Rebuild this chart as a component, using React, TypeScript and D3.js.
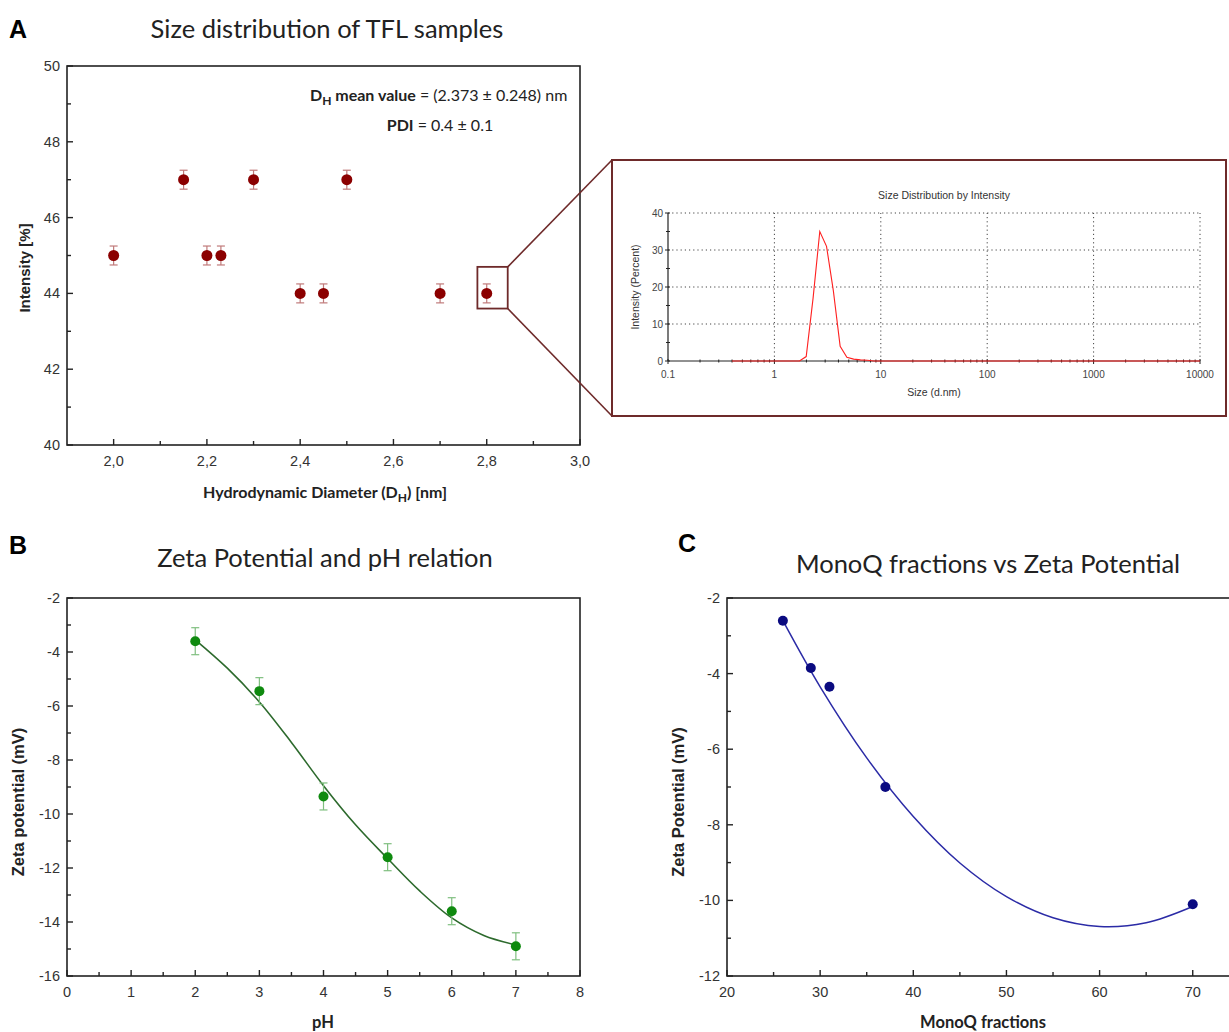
import React from 'react';
import * as d3 from 'd3';

// ---------- Panel A data ----------
const sizeX = [2.0, 2.15, 2.2, 2.23, 2.3, 2.4, 2.45, 2.5, 2.7, 2.8];
const sizeY = [45, 47, 45, 45, 47, 44, 44, 47, 44, 44];
const sizeErr = [0.25, 0.25, 0.25, 0.25, 0.25, 0.25, 0.25, 0.25, 0.25, 0.25];
const sizeXMajor = [2.0, 2.2, 2.4, 2.6, 2.8, 3.0];
const sizeXMinor = [2.1, 2.3, 2.5, 2.7, 2.9];
const sizeYMajor = [40, 42, 44, 46, 48, 50];
const sizeYMinor = [41, 43, 45, 47, 49];

// ---------- Inset (DLS) data ----------
const distSize = [0.4, 1.72, 1.99, 2.31, 2.67, 3.09, 3.58, 4.15, 4.8, 5.56, 6.44, 7.46, 8.64, 10000];
const distIntensity = [0, 0, 1.2, 17, 35, 31, 19, 4, 1, 0.5, 0.3, 0.2, 0, 0];
const distXTicks = [0.1, 1, 10, 100, 1000, 10000];
const distYTicks = [0, 10, 20, 30, 40];

// ---------- Panel B data ----------
const phX = [2, 3, 4, 5, 6, 7];
const zetaY = [-3.6, -5.45, -9.35, -11.6, -13.6, -14.9];
const zetaErr = [0.5, 0.5, 0.5, 0.5, 0.5, 0.5];
const phFitX = [2, 2.5, 3, 3.5, 4, 4.5, 5, 5.5, 6, 6.5, 7];
const phFitY = [-3.55, -4.6, -5.85, -7.35, -8.95, -10.4, -11.65, -12.85, -13.85, -14.5, -14.85];
const phXMajor = [0, 1, 2, 3, 4, 5, 6, 7, 8];
const phXMinor = [0.5, 1.5, 2.5, 3.5, 4.5, 5.5, 6.5, 7.5];
const phYMajor = [-16, -14, -12, -10, -8, -6, -4, -2];
const phYMinor = [-15, -13, -11, -9, -7, -5, -3];

// ---------- Panel C data ----------
const monoX = [26, 29, 31, 37, 70];
const monoY = [-2.6, -3.85, -4.35, -7.0, -10.1];
const monoFitX = [26, 30, 35, 40, 45, 50, 55, 60, 65, 70];
const monoFitY = [-2.6, -4.35, -6.23, -7.78, -9.01, -9.9, -10.46, -10.69, -10.59, -10.16];
const monoXMajor = [20, 30, 40, 50, 60, 70];
const monoXMinor = [25, 35, 45, 55, 65];
const monoYMajor = [-12, -10, -8, -6, -4, -2];
const monoYMinor = [-11, -9, -7, -5, -3];

const TICK_FONT = '"Liberation Sans", Arial, sans-serif';
const TEXT_FONT = 'Lato, "Open Sans", sans-serif';

type Scale = d3.ScaleLinear<number, number>;

function Frame(props: {
  x: Scale; y: Scale;
  xMajor: number[]; xMinor: number[]; yMajor: number[]; yMinor: number[];
  xFmt: (v: number) => string; yFmt: (v: number) => string;
}) {
  const { x, y, xMajor, xMinor, yMajor, yMinor, xFmt, yFmt } = props;
  const [x0, x1] = x.range();
  const [y0, y1] = y.range(); // y0 bottom, y1 top
  return (
    <g>
      <rect x={x0} y={y1} width={x1 - x0} height={y0 - y1} fill="none" stroke="#222" strokeWidth={1.6} />
      {xMajor.map((v) => (
        <g key={'xM' + v}>
          <line x1={x(v)} x2={x(v)} y1={y0} y2={y0 - 6} stroke="#222" strokeWidth={1.4} />
          <text x={x(v)} y={y0 + 21} textAnchor="middle" fontFamily={TICK_FONT} fontSize={14.5} fill="#333">{xFmt(v)}</text>
        </g>
      ))}
      {xMinor.map((v) => (
        <line key={'xm' + v} x1={x(v)} x2={x(v)} y1={y0} y2={y0 - 4} stroke="#222" strokeWidth={1.4} />
      ))}
      {yMajor.map((v) => (
        <g key={'yM' + v}>
          <line x1={x0} x2={x0 + 6} y1={y(v)} y2={y(v)} stroke="#222" strokeWidth={1.4} />
          <text x={x0 - 7} y={y(v) + 5} textAnchor="end" fontFamily={TICK_FONT} fontSize={14.5} fill="#333">{yFmt(v)}</text>
        </g>
      ))}
      {yMinor.map((v) => (
        <line key={'ym' + v} x1={x0} x2={x0 + 4} y1={y(v)} y2={y(v)} stroke="#222" strokeWidth={1.4} />
      ))}
    </g>
  );
}

function ErrorPoints(props: { x: Scale; y: Scale; xs: number[]; ys: number[]; errs?: number[]; color: string; errColor: string; r: number }) {
  const { x, y, xs, ys, errs, color, errColor, r } = props;
  return (
    <g>
      {xs.map((xv, i) => {
        const cx = x(xv), cy = y(ys[i]);
        return (
          <g key={i}>
            {errs && (
              <g stroke={errColor} strokeWidth={1.2}>
                <line x1={cx} x2={cx} y1={y(ys[i] + errs[i])} y2={y(ys[i] - errs[i])} />
                <line x1={cx - 4} x2={cx + 4} y1={y(ys[i] + errs[i])} y2={y(ys[i] + errs[i])} />
                <line x1={cx - 4} x2={cx + 4} y1={y(ys[i] - errs[i])} y2={y(ys[i] - errs[i])} />
              </g>
            )}
            <circle cx={cx} cy={cy} r={r} fill={color} />
          </g>
        );
      })}
    </g>
  );
}

export default function App() {
  // Panel A scales
  const ax = d3.scaleLinear().domain([1.9, 3.0]).range([67, 580]);
  const ay = d3.scaleLinear().domain([40, 50]).range([445, 66]);
  const commaFmt = (v: number) => v.toFixed(1).replace('.', ',');

  // Inset scales
  const ix = d3.scaleLog().domain([0.1, 10000]).range([668, 1200]);
  const iy = d3.scaleLinear().domain([0, 40]).range([361, 213]);
  const insetLine = d3.line<number>().x((d) => ix(d)).y((_, i) => iy(distIntensity[i]));
  const minorLog: number[] = [];
  [0.1, 1, 10, 100, 1000].forEach((dec) => { for (let k = 2; k <= 9; k++) minorLog.push(dec * k); });

  // Panel B scales
  const bx = d3.scaleLinear().domain([0, 8]).range([67, 580]);
  const by = d3.scaleLinear().domain([-16, -2]).range([976, 598]);
  const bLine = d3.line<number>().x((d) => bx(d)).y((_, i) => by(phFitY[i])).curve(d3.curveCatmullRom);

  // Panel C scales
  const cx = d3.scaleLinear().domain([20, 74]).range([727, 1230]);
  const cy = d3.scaleLinear().domain([-12, -2]).range([976, 598]);
  const cLine = d3.line<number>().x((d) => cx(d)).y((_, i) => cy(monoFitY[i])).curve(d3.curveCatmullRom);

  // zoom box
  const zx0 = ax(2.78), zx1 = ax(2.845), zy0 = ay(44.7), zy1 = ay(43.6);
  const insetBox = { x: 612, y: 160, w: 614, h: 256 };
  const maroon = '#6e2a2a';

  return (
    <svg width={1229} height={1032} style={{ position: 'absolute', left: 0, top: 0, background: '#fff' }}>
      <rect width={1229} height={1032} fill="#fff" />
      {/* ---------------- Panel A ---------------- */}
      <text x={9} y={38} fontFamily={TICK_FONT} fontWeight="bold" fontSize={25}>A</text>
      <text x={327} y={38} textAnchor="middle" fontFamily={TEXT_FONT} fontSize={25.5} fill="#222">Size distribution of TFL samples</text>
      <Frame x={ax} y={ay} xMajor={sizeXMajor} xMinor={sizeXMinor} yMajor={sizeYMajor} yMinor={sizeYMinor} xFmt={commaFmt} yFmt={(v) => String(v)} />
      <ErrorPoints x={ax} y={ay} xs={sizeX} ys={sizeY} errs={sizeErr} color="#8b0000" errColor="#c07a7a" r={5.5} />
      <text x={310} y={101} fontFamily={TEXT_FONT} fontSize={16} fill="#222">
        <tspan fontWeight="bold">D</tspan>
        <tspan fontWeight="bold" fontSize={12} dy={4}>H</tspan>
        <tspan fontWeight="bold" dy={-4}> mean value</tspan>
        <tspan>  = (2.373 ± 0.248) nm</tspan>
      </text>
      <text x={440} y={131} textAnchor="middle" fontFamily={TEXT_FONT} fontSize={16} fill="#222">
        <tspan fontWeight="bold">PDI</tspan>
        <tspan> = 0.4 ± 0.1</tspan>
      </text>
      <text transform="translate(30,268) rotate(-90)" textAnchor="middle" fontFamily={TICK_FONT} fontWeight="bold" fontSize={15} fill="#222">Intensity [%]</text>
      <text x={325} y={498} textAnchor="middle" fontFamily={TEXT_FONT} fontWeight="bold" fontSize={16} fill="#222">
        <tspan>Hydrodynamic Diameter (D</tspan>
        <tspan fontSize={12} dy={4}>H</tspan>
        <tspan dy={-4}>) [nm]</tspan>
      </text>

      {/* zoom box + connectors */}
      <rect x={zx0} y={zy0} width={zx1 - zx0} height={zy1 - zy0} fill="none" stroke={maroon} strokeWidth={1.8} />
      <line x1={zx1} y1={zy0} x2={insetBox.x} y2={insetBox.y} stroke={maroon} strokeWidth={1.6} />
      <line x1={zx1} y1={zy1} x2={insetBox.x} y2={insetBox.y + insetBox.h} stroke={maroon} strokeWidth={1.6} />
      <rect x={insetBox.x} y={insetBox.y} width={insetBox.w} height={insetBox.h} fill="#fff" stroke={maroon} strokeWidth={2} />

      {/* ---------------- Inset ---------------- */}
      <text x={944} y={199} textAnchor="middle" fontFamily={TICK_FONT} fontSize={10.5} fill="#333">Size Distribution by Intensity</text>
      {distXTicks.slice(1).map((v) => (
        <line key={'gx' + v} x1={ix(v)} x2={ix(v)} y1={iy(0)} y2={iy(40)} stroke="#444" strokeWidth={1} strokeDasharray="1.2,3" />
      ))}
      {distYTicks.slice(1).map((v) => (
        <line key={'gy' + v} x1={ix(0.1)} x2={ix(10000)} y1={iy(v)} y2={iy(v)} stroke="#444" strokeWidth={1} strokeDasharray="1.2,3" />
      ))}
      <line x1={ix(0.1)} x2={ix(0.1)} y1={iy(0)} y2={iy(40)} stroke="#222" strokeWidth={1.2} />
      <line x1={ix(0.1)} x2={ix(10000)} y1={iy(0)} y2={iy(0)} stroke="#222" strokeWidth={1} />
      {distYTicks.map((v) => (
        <g key={'iy' + v}>
          <line x1={ix(0.1) - 3} x2={ix(0.1) + 2} y1={iy(v)} y2={iy(v)} stroke="#222" strokeWidth={1} />
          <text x={ix(0.1) - 5} y={iy(v) + 3.5} textAnchor="end" fontFamily={TICK_FONT} fontSize={10} fill="#444">{v}</text>
        </g>
      ))}
      {[5, 15, 25, 35].map((v) => (
        <line key={'iym' + v} x1={ix(0.1) - 2} x2={ix(0.1) + 2} y1={iy(v)} y2={iy(v)} stroke="#222" strokeWidth={1} />
      ))}
      {distXTicks.map((v) => (
        <g key={'ix' + v}>
          <line x1={ix(v)} x2={ix(v)} y1={iy(0) - 2} y2={iy(0) + 3} stroke="#222" strokeWidth={1} />
          <text x={ix(v)} y={iy(0) + 17} textAnchor="middle" fontFamily={TICK_FONT} fontSize={10} fill="#444">{v}</text>
        </g>
      ))}
      {minorLog.map((v) => (
        <line key={'ixm' + v} x1={ix(v)} x2={ix(v)} y1={iy(0) - 1.5} y2={iy(0) + 1.5} stroke="#222" strokeWidth={1} />
      ))}
      <path d={insetLine(distSize) || ''} fill="none" stroke="#ff2020" strokeWidth={1.1} />
      <text transform={`translate(639,${iy(20)}) rotate(-90)`} textAnchor="middle" fontFamily={TICK_FONT} fontSize={10.5} fill="#333">Intensity (Percent)</text>
      <text x={934} y={396} textAnchor="middle" fontFamily={TICK_FONT} fontSize={10.5} fill="#333">Size (d.nm)</text>

      {/* ---------------- Panel B ---------------- */}
      <text x={9} y={554} fontFamily={TICK_FONT} fontWeight="bold" fontSize={25}>B</text>
      <text x={325} y={567} textAnchor="middle" fontFamily={TEXT_FONT} fontSize={25.5} fill="#222">Zeta Potential and pH relation</text>
      <Frame x={bx} y={by} xMajor={phXMajor} xMinor={phXMinor} yMajor={phYMajor} yMinor={phYMinor} xFmt={(v) => String(v)} yFmt={(v) => String(v)} />
      <path d={bLine(phFitX) || ''} fill="none" stroke="#2d6a2d" strokeWidth={1.6} />
      <ErrorPoints x={bx} y={by} xs={phX} ys={zetaY} errs={zetaErr} color="#0f8a0f" errColor="#7fbf7f" r={5} />
      <text transform="translate(24,802) rotate(-90)" textAnchor="middle" fontFamily={TICK_FONT} fontWeight="bold" fontSize={16.5} fill="#222">Zeta potential (mV)</text>
      <text x={323} y={1028} textAnchor="middle" fontFamily={TEXT_FONT} fontWeight="bold" fontSize={16.5} fill="#222">pH</text>

      {/* ---------------- Panel C ---------------- */}
      <text x={678} y={552} fontFamily={TICK_FONT} fontWeight="bold" fontSize={25}>C</text>
      <text x={988} y={573} textAnchor="middle" fontFamily={TEXT_FONT} fontSize={25.5} fill="#222">MonoQ fractions vs Zeta Potential</text>
      <Frame x={cx} y={cy} xMajor={monoXMajor} xMinor={monoXMinor} yMajor={monoYMajor} yMinor={monoYMinor} xFmt={(v) => String(v)} yFmt={(v) => String(v)} />
      <path d={cLine(monoFitX) || ''} fill="none" stroke="#2b2ba6" strokeWidth={1.5} />
      <ErrorPoints x={cx} y={cy} xs={monoX} ys={monoY} color="#0a0a80" errColor="#0a0a80" r={5} />
      <text transform="translate(684,802) rotate(-90)" textAnchor="middle" fontFamily={TICK_FONT} fontWeight="bold" fontSize={16.5} fill="#222">Zeta Potential (mV)</text>
      <text x={983} y={1028} textAnchor="middle" fontFamily={TEXT_FONT} fontWeight="bold" fontSize={16.5} fill="#222">MonoQ fractions</text>
    </svg>
  );
}
